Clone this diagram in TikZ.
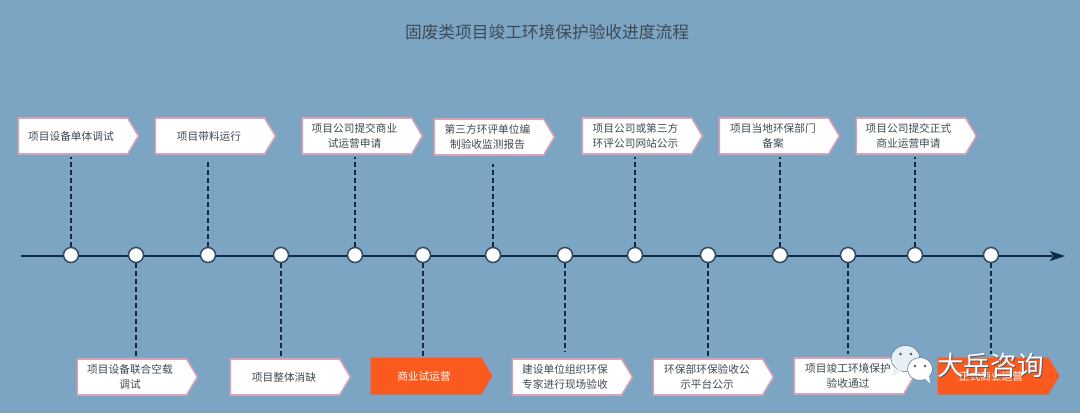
\documentclass[tikz,border=0pt]{standalone}
\usepackage{fontspec}
\setmainfont{Noto Sans CJK SC}
\usetikzlibrary{shapes.symbols}
\definecolor{bgblue}{HTML}{7BA5C3}
\definecolor{linedark}{HTML}{0F2A45}
\definecolor{pinkedge}{HTML}{D8A2B4}
\definecolor{flagorange}{HTML}{FB5A1E}
\definecolor{txtgrey}{HTML}{3F4A52}
\definecolor{bubblepale}{HTML}{E9F0F4}
\newcommand{\trail}[1]{\rule{#1pt}{0pt}}
\tikzset{
  x=1pt,y=-1pt,
  flagbase/.style={signal,signal to=east,signal pointer angle=118,inner sep=0pt,
    align=center,font=\fontsize{10.7}{15}\selectfont},
  flagbox/.style={flagbase,draw=pinkedge,line width=1.6pt,fill=white,text=txtgrey,
    minimum width=120pt,minimum height=36pt},
  flaghot/.style={flagbase,fill=flagorange,text=white,minimum width=122pt,minimum height=37pt},
  dot/.style={circle,draw=linedark!85!white,line width=1.5pt,fill=white,minimum size=15pt,inner sep=0pt},
  tie/.style={draw=linedark,line width=1.4pt,dash pattern=on 5pt off 3pt},
  axis/.style={draw=linedark,line width=2.5pt},
}
\begin{document}
\begin{tikzpicture}
\useasboundingbox[fill=bgblue] (0,0) rectangle (1080,413);
\node[text=txtgrey,font=\fontsize{16.7}{18}\selectfont] (title) at (547,32.5) {固废类项目竣工环境保护验收进度流程};

% timeline
\coordinate (axstart) at (21,256);
\coordinate (axend) at (1065,256);
\draw[axis] (axstart) -- (1052,256);
\fill[linedark] (axend) -- (1050,251) -- (1053,256) -- (1050,261) -- cycle;

% flags
\node[flagbox] (t1) at (73,136) {项目设备单体调试\trail{4}};
\node[flagbox] (t2) at (210,136) {项目带料运行\trail{2}};
\node[flagbox] (t3) at (357,136) {项目公司提交商业\trail{5}\\试运营申请\trail{5}};
\node[flagbox] (t4) at (489,137) {第三方环评单位编\trail{3}\\制验收监测报告\trail{3}};
\node[flagbox] (t5) at (637,136) {项目公司或第三方\trail{3}\\环评公司网站公示\trail{3}};
\node[flagbox] (t6) at (774,136) {项目当地环保部门\trail{2}\\备案\trail{2}};
\node[flagbox] (t7) at (911,136) {项目公司提交正式\trail{5}\\商业运营申请\trail{5}};
\node[flagbox] (b1) at (132,377) {项目设备联合空载\trail{4}\\调试\trail{4}};
\node[flagbox] (b2) at (285,377) {项目整体消缺\trail{2}};
\node[flaghot] (b3) at (426,376) {商业试运营\trail{4}};
\node[flagbox] (b4) at (567,377) {建设单位组织环保\trail{4}\\专家进行现场验收\trail{4}};
\node[flagbox] (b5) at (708,377) {环保部环保验收公\trail{2}\\示平台公示\trail{2}};
\node[flagbox] (b6) at (849,376) {项目竣工环境保护\trail{2}\\验收通过\trail{2}};
\node[flaghot] (b7) at (993,376) {正式商业运营\trail{4}};

% dots positions
\coordinate (d1) at (71,255);
\coordinate (d2) at (136,255);
\coordinate (d3) at (208,255);
\coordinate (d4) at (281,255);
\coordinate (d5) at (355,255);
\coordinate (d6) at (423,255);
\coordinate (d7) at (493,255);
\coordinate (d8) at (565,255);
\coordinate (d9) at (635,255);
\coordinate (d10) at (708,255);
\coordinate (d11) at (780,255);
\coordinate (d12) at (848,255);
\coordinate (d13) at (915,255);
\coordinate (d14) at (991,255);

% ties
\draw[tie,shorten >=2pt] (d1) -- (d1 |- t1.south);
\draw[tie,shorten >=5pt] (d3) -- (d3 |- t2.south);
\draw[tie,shorten >=2pt] (d5) -- (d5 |- t3.south);
\draw[tie,shorten >=8pt] (d7) -- (d7 |- t4.south);
\draw[tie,shorten >=2pt] (d9) -- (d9 |- t5.south);
\draw[tie,shorten >=2pt] (d11) -- (d11 |- t6.south);
\draw[tie,shorten >=2pt] (d13) -- (d13 |- t7.south);
\draw[tie,shorten >=1pt] (d2) -- (d2 |- b1.north);
\draw[tie,shorten >=1pt] (d4) -- (d4 |- b2.north);
\draw[tie,shorten >=1pt] (d6) -- (d6 |- b3.north);
\draw[tie,shorten >=6pt] (d8) -- (d8 |- b4.north);
\draw[tie,shorten >=1pt] (d10) -- (d10 |- b5.north);
\draw[tie,shorten >=3pt] (d12) -- (d12 |- b6.north);
\draw[tie,shorten >=3pt] (d14) -- (d14 |- b7.north);

% dots
\foreach \i in {1,...,14} \node[dot] (n\i) at (d\i) {};

% watermark
\fill[bubblepale,draw=linedark!40!bgblue,line width=.5pt] (905.5,358.5) ellipse (14.5 and 13);
\fill[bubblepale] (895,368) -- (892,376) -- (902,371) -- cycle;
\fill[linedark!80!white] (900.5,354) circle (1.4) (911,354) circle (1.4);
\fill[white,draw=linedark!40!bgblue,line width=.5pt] (920,369) ellipse (12.5 and 11.5);
\fill[white] (924,378) -- (930,383) -- (929,375) -- cycle;
\fill[linedark!80!white] (915,366) circle (1.3) (925,366) circle (1.3);
\node[text=linedark!55!bgblue,font=\fontsize{26.6}{28}\selectfont,inner sep=0pt] (wms) at (991.5,366.5) {大岳咨询};
\node[text=white,font=\fontsize{26.6}{28}\selectfont,inner sep=0pt] (wm) at (990.5,365.5) {大岳咨询};
\end{tikzpicture}
\end{document}
